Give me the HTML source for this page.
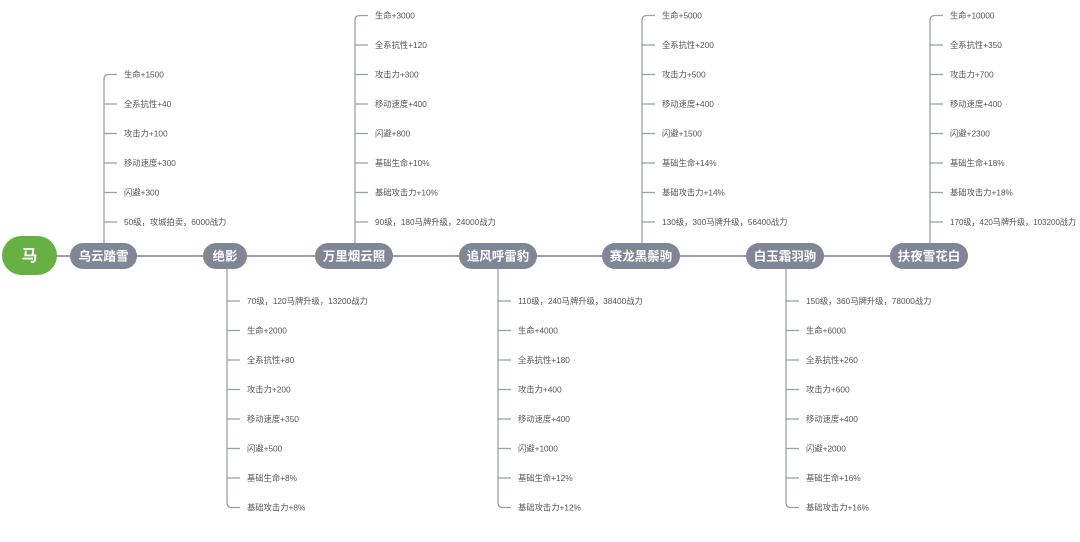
<!DOCTYPE html>
<html><head><meta charset="utf-8"><style>
html,body{margin:0;padding:0;background:#fff;}
svg text{font-family:"Liberation Sans","Noto Sans CJK SC",sans-serif;}
.it{font-size:8.3px;fill:#555;}
.nd{font-size:12.5px;fill:#fff;font-weight:bold;}
</style></head><body>
<svg width="1080" height="537" viewBox="0 0 1080 537" xmlns="http://www.w3.org/2000/svg">
<g stroke="#9aa0aa" stroke-width="1.3" fill="none">
<line x1="56" y1="256" x2="890" y2="256" stroke-width="2"/>
</g>
<g id="branches" stroke="#9aa0aa" stroke-width="1.3" fill="none"></g>
<g id="labels"></g>
<rect x="2" y="236" width="55" height="39" rx="19.5" fill="#67b044"/>
<text x="29.5" y="261" text-anchor="middle" style="font-size:16px;fill:#fff;font-weight:bold">马</text>
<g id="nodes"></g>
</svg>
<script>
var ns="http://www.w3.org/2000/svg";
function el(p,t,a,txt){var e=document.createElementNS(ns,t);for(var k in a)e.setAttribute(k,a[k]);if(txt)e.textContent=txt;document.getElementById(p).appendChild(e);}
var nodes=[
{n:"乌云踏雪",x:70,w:67,up:1,lx:104,it:["生命+1500","全系抗性+40","攻击力+100","移动速度+300","闪避+300","50级，攻城拍卖，6000战力"]},
{n:"绝影",x:203,w:44,up:0,lx:227,it:["70级，120马牌升级，13200战力","生命+2000","全系抗性+80","攻击力+200","移动速度+350","闪避+500","基础生命+8%","基础攻击力+8%"]},
{n:"万里烟云照",x:315,w:78,up:1,lx:355,it:["生命+3000","全系抗性+120","攻击力+300","移动速度+400","闪避+800","基础生命+10%","基础攻击力+10%","90级，180马牌升级，24000战力"]},
{n:"追风呼雷豹",x:459,w:78,up:0,lx:498,it:["110级，240马牌升级，38400战力","生命+4000","全系抗性+180","攻击力+400","移动速度+400","闪避+1000","基础生命+12%","基础攻击力+12%"]},
{n:"赛龙黑鬃驹",x:602,w:78,up:1,lx:642,it:["生命+5000","全系抗性+200","攻击力+500","移动速度+400","闪避+1500","基础生命+14%","基础攻击力+14%","130级，300马牌升级，56400战力"]},
{n:"白玉霜羽驹",x:746,w:78,up:0,lx:786,it:["150级，360马牌升级，78000战力","生命+6000","全系抗性+260","攻击力+600","移动速度+400","闪避+2000","基础生命+16%","基础攻击力+16%"]},
{n:"扶夜雪花白",x:890,w:78,up:1,lx:930,it:["生命+10000","全系抗性+350","攻击力+700","移动速度+400","闪避+2300","基础生命+18%","基础攻击力+18%","170级，420马牌升级，103200战力"]}
];
var step=29.5;
nodes.forEach(function(d){
 var cx=d.lx;
 var ys=[];
 if(d.up){var last=222;for(var i=0;i<d.it.length;i++)ys.push(last-(d.it.length-1-i)*step);}
 else{for(var i=0;i<d.it.length;i++)ys.push(301+i*step);}
 var far=d.up?ys[0]:ys[ys.length-1];
 var r=5;
 var near=d.up?243:269;
 var s=d.up?1:-1;
 el("branches","path",{d:"M"+cx+" "+near+" L"+cx+" "+(far+s*r)+" Q"+cx+" "+far+" "+(cx+r)+" "+far+" L"+(cx+13)+" "+far});
 ys.forEach(function(y,i){
  if(y!==far) el("branches","line",{x1:cx,y1:y,x2:cx+13,y2:y});
  var a={x:cx+20,y:y+3,"class":"it"};
  if(d.it[i]==="170级，420马牌升级，103200战力"){a.textLength=126;a.lengthAdjust="spacingAndGlyphs";}
  el("labels","text",a,d.it[i]);
 });
 el("nodes","rect",{x:d.x,y:243,width:d.w,height:26,rx:13,fill:"#7f8796"});
 el("nodes","text",{x:d.x+d.w/2,y:260.5,"text-anchor":"middle","class":"nd"},d.n);
});
</script>
</body></html>
